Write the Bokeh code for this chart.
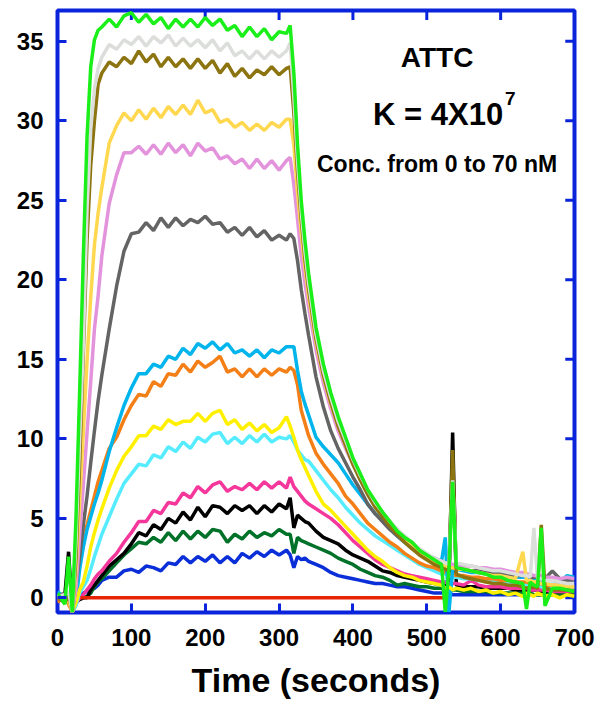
from bokeh.plotting import figure
from bokeh.models import Label, Range1d, FixedTicker
from bokeh.embed import file_html
from bokeh.resources import INLINE

# ---------------- data ----------------
TIME = [0, 10,
        15, 20, 25, 30, 35, 40, 45, 50, 55,
        60, 70, 80, 90, 100, 110, 120, 130, 140, 150, 160, 170, 180, 190, 200,
        210, 220, 230, 240, 250, 260, 270, 280, 290, 300, 310,
        315, 320, 325, 330, 335,
        340, 350, 360, 370, 380, 390, 400, 410, 420, 430, 440, 450, 460, 470,
        480, 490, 500, 510, 520,
        525, 530, 535,
        540, 550, 560, 570, 580, 590, 600, 610, 620, 630,
        635, 640, 645, 650, 655,
        660, 670, 680, 690, 700]

RESP_GREEN = [0.3, -0.4,
              2.6, -0.9, 5.0, 13.0, 21.5, 29.0, 33.4, 35.1, 35.7,
              35.9, 36.4, 35.9, 36.6, 36.8, 36.2, 36.7, 36.1, 36.5, 35.8, 36.4, 35.9, 36.4, 35.9, 36.5,
              36.0, 36.4, 35.7, 36.0, 35.3, 35.9, 35.3, 35.8, 35.1, 35.6, 35.5,
              36.0, 33.0, 28.5, 25.0, 22.5,
              20.4, 17.0, 14.7, 12.9, 11.4, 10.1, 8.8, 7.8, 6.8, 6.1, 5.4, 4.8, 4.2, 3.8,
              3.5, 3.0, 2.7, 2.4, 2.1,
              -0.9, 1.8, 7.3,
              1.9, 1.8, 1.7, 1.6, 1.5, 1.3, 1.3, 1.1, 1.0, 0.9,
              -0.7, 1.0, 0.8, 0.7, 4.4,
              -0.5, 0.6, 0.6, 0.5, 0.4]

RESP_LIGHTGRAY = [0.1, 0.2,
                  0.4, -0.9, 3.5, 10.0, 16.0, 24.5, 29.5, 32.0, 33.3,
                  34.0, 34.8, 34.5, 35.1, 34.8, 35.3, 34.7, 35.3, 34.9, 35.4, 34.7, 35.2, 34.7, 35.1, 34.6,
                  35.1, 34.4, 34.9, 34.1, 34.4, 33.9, 34.4, 33.9, 34.4, 34.0, 34.4,
                  34.9, 31.5, 27.5, 24.3, 21.8,
                  19.8, 16.6, 14.3, 12.6, 11.1, 9.9, 8.7, 7.7, 6.8, 6.0, 5.4, 4.8, 4.3, 3.9,
                  3.5, 3.1, 2.8, 2.5, 2.3,
                  2.2, 2.1, 7.4,
                  2.2, 2.1, 2.0, 1.9, 1.8, 1.7, 1.7, 1.6, 1.5, 1.4,
                  1.4, 1.3, 4.4, 1.2, 1.2,
                  1.1, 1.1, 1.0, 0.9, 0.9]

RESP_OLIVE = [0.0, -0.3,
              0.2, -0.9, 2.5, 8.5, 15.5, 22.5, 27.2, 30.0, 32.3,
              33.0, 33.7, 33.4, 34.0, 33.6, 34.4, 33.7, 34.2, 33.4, 34.0, 33.4, 33.9, 33.3, 33.9, 33.3,
              33.8, 33.0, 33.6, 32.8, 33.3, 32.7, 33.2, 32.9, 33.4, 32.9, 33.3,
              33.4, 30.5, 26.8, 23.8, 21.3,
              19.4, 16.3, 14.0, 12.3, 10.8, 9.6, 8.4, 7.4, 6.5, 5.7, 5.1, 4.5, 4.0, 3.5,
              3.1, 2.7, 2.4, 2.1, 1.9,
              1.8, 1.7, 9.3,
              1.5, 1.3, 1.2, 1.1, 1.0, 0.9, 0.9, 0.8, 0.8, 0.7,
              0.6, 0.7, 0.7, 0.6, 4.6,
              0.6, 0.5, 0.5, 0.5, 0.4]

RESP_GOLD = [0.2, 0.0,
             -0.2, -0.9, 1.8, 6.1, 10.5, 14.9, 18.9, 22.2, 24.2,
             25.8, 28.6, 29.7, 30.5, 30.0, 30.7, 30.1, 30.8, 30.2, 30.9, 30.4, 31.0, 30.4, 31.3, 30.5,
             30.7, 29.9, 30.1, 29.6, 29.9, 29.4, 29.8, 29.4, 29.9, 29.6, 30.1,
             30.1, 28.5, 25.5, 23.0, 20.8,
             19.0, 16.1, 13.9, 12.2, 10.8, 9.6, 8.5, 7.6, 6.7, 5.9, 5.3, 4.7, 4.2, 3.7,
             3.3, 2.9, 2.6, 2.3, 2.1,
             2.0, 1.9, 1.9,
             1.8, 1.8, 1.7, 1.6, 1.5, 1.4, 1.4, 1.3, 1.2, 2.9,
             1.1, 1.1, 1.0, 1.0, 0.9,
             0.9, 0.8, 0.8, 0.7, 0.7]

RESP_VIOLET = [-0.1, 0.2,
               0.1, -0.9, 0.6, 3.9, 7.1, 10.4, 13.6, 16.9, 19.0,
               21.5, 24.8, 26.6, 28.0, 28.0, 28.4, 27.9, 28.5, 27.9, 28.6, 28.0, 28.5, 27.8, 28.6, 28.1,
               28.3, 27.6, 27.8, 27.3, 27.6, 27.0, 27.6, 27.0, 27.5, 26.9, 27.5,
               27.7, 26.0, 23.8, 21.5, 19.8,
               18.3, 15.6, 13.5, 11.9, 10.5, 9.4, 8.4, 7.5, 6.7, 6.0, 5.4, 4.8, 4.3, 3.8,
               3.4, 3.0, 2.7, 2.5, 2.3,
               2.2, 2.2, 2.1,
               2.1, 2.0, 2.0, 1.9, 1.9, 1.8, 1.8, 1.7, 1.6, 1.6,
               1.5, 1.5, 1.4, 1.4, 1.4,
               1.3, 1.3, 1.2, 1.3, 1.2]

RESP_DARKGRAY = [0.1, 0.3,
                 0.2, -0.9, 0.8, 2.6, 4.6, 6.4, 8.5, 10.5, 12.4,
                 14.0, 16.9, 19.6, 21.8, 22.9, 23.0, 23.6, 23.1, 23.9, 23.3, 23.9, 23.4, 23.8, 23.6, 24.0,
                 23.5, 23.6, 23.0, 23.3, 22.8, 23.3, 22.7, 23.1, 22.5, 22.8, 22.5,
                 22.9, 22.6, 21.2, 19.4, 17.9,
                 16.5, 13.9, 12.0, 10.5, 9.4, 8.5, 7.6, 6.8, 5.9, 5.3, 4.8, 4.3, 3.9, 3.5,
                 3.1, 2.8, 2.5, 2.3, 2.1,
                 2.0, 1.9, 1.9,
                 1.8, 1.8, 1.7, 1.7, 1.6, 1.6, 1.5, 1.5, 1.4, 1.4,
                 1.4, 1.3, 1.3, 1.3, 1.2,
                 1.2, 1.7, 1.2, 1.1, 1.1]

RESP_SKYBLUE = [0.4, 0.0,
                0.3, -0.9, -0.2, 1.8, 3.2, 4.3, 5.1, 5.9, 6.6,
                7.4, 9.2, 10.7, 12.1, 13.2, 14.1, 14.1, 14.7, 14.5, 15.2, 15.0, 15.7, 15.3, 16.0, 15.7,
                16.1, 15.6, 16.0, 15.4, 15.6, 15.2, 15.6, 15.1, 15.6, 15.4, 15.8,
                15.8, 15.8, 14.3, 13.0, 12.2,
                11.5, 10.1, 9.5, 9.0, 8.5, 7.8, 7.1, 6.5, 5.9, 5.3, 4.9, 4.4, 3.9, 3.5,
                3.2, 2.9, 2.7, 2.5, 2.3,
                3.8, -0.9, 1.8,
                1.8, 1.7, 1.6, 1.6, 1.5, 1.5, 1.4, 1.4, 1.3, 1.3,
                1.3, 1.2, 1.2, 1.2, 1.1,
                1.1, 1.1, 1.0, 1.4, 1.3]

RESP_ORANGE = [-0.3, 0.2,
               -0.4, -0.9, 0.5, 2.3, 3.8, 4.6, 5.5, 6.4, 7.3,
               8.0, 9.4, 10.1, 11.2, 12.1, 12.8, 12.7, 13.6, 13.3, 14.1, 14.0, 14.7, 14.2, 14.9, 14.5,
               14.8, 15.2, 14.2, 14.4, 13.9, 14.4, 13.9, 14.4, 14.0, 14.4, 14.2,
               14.5, 14.3, 13.4, 11.8, 11.0,
               10.2, 9.1, 8.4, 7.8, 7.2, 6.4, 5.9, 5.3, 4.7, 4.3, 3.9, 3.5, 3.2, 2.8,
               2.5, 2.2, 2.0, 1.9, 1.7,
               1.6, 1.5, 1.5,
               1.4, 1.4, 1.3, 1.3, 1.2, 1.2, 1.1, 1.1, 1.0, 1.0,
               1.0, 0.9, 0.9, 0.9, 0.9,
               0.8, 0.8, 0.8, 0.7, 0.7]

RESP_YELLOW = [0.1, -0.2,
               0.0, -0.9, -0.3, 0.5, 1.0, 2.0, 3.2, 4.1, 4.9,
               5.6, 6.9, 8.0, 8.9, 9.5, 10.2, 10.2, 10.8, 10.6, 11.2, 10.9, 11.1, 11.1, 11.6, 11.1,
               11.6, 11.8, 10.9, 11.2, 10.6, 11.0, 10.5, 10.9, 10.4, 10.7, 11.4,
               10.8, 10.1, 9.3, 8.7, 8.2,
               7.7, 6.7, 5.9, 5.5, 5.0, 4.5, 4.0, 3.5, 3.0, 2.6, 2.3, 1.9, 1.6, 1.4,
               1.3, 1.1, 1.0, 0.9, 0.8,
               0.6, 0.7, 0.5,
               0.6, 0.5, 0.6, 0.4, 0.5, 0.3, 0.4, 0.2, 0.3, 0.1,
               0.3, 0.2, 0.1, 0.3, 0.2,
               0.1, 0.2, 0.0, 0.2, 0.1]

RESP_CYAN = [0.0, 0.1,
             0.3, -0.9, -0.5, 0.3, 0.7, 1.1, 1.8, 2.6, 3.3,
             4.0, 5.1, 6.2, 7.2, 7.8, 8.4, 8.3, 9.0, 8.8, 9.5, 9.2, 9.8, 9.4, 10.1, 9.8,
             10.3, 10.4, 9.7, 10.1, 9.7, 10.2, 9.8, 10.3, 9.8, 10.1, 10.0,
             10.2, 9.8, 9.3, 9.0, 8.7,
             8.6, 8.0, 7.4, 6.8, 6.3, 5.7, 5.2, 4.7, 4.3, 3.9, 3.6, 3.3, 3.0, 2.7,
             2.4, 2.1, 1.9, 1.7, 1.5,
             1.5, 1.4, 1.3,
             1.3, 1.2, 1.2, 1.1, 1.1, 1.0, 1.0, 0.9, 0.9, 0.9,
             0.8, 1.2, 0.8, 0.8, 0.7,
             0.7, 0.7, 0.6, 0.6, 0.6]

RESP_MAGENTA = [-0.2, 0.1,
                0.0, -0.9, -0.4, 0.0, 0.2, 0.5, 0.8, 1.2, 1.5,
                1.7, 2.3, 2.8, 3.5, 4.1, 4.8, 4.8, 5.5, 5.3, 6.0, 5.9, 6.6, 6.3, 7.0, 6.6,
                7.1, 7.3, 6.7, 7.0, 6.8, 7.2, 6.8, 7.3, 6.9, 7.3, 6.9,
                7.6, 7.0, 6.7, 6.4, 6.1,
                5.9, 5.6, 5.3, 5.0, 4.6, 4.1, 3.6, 3.2, 2.8, 2.4, 2.1, 1.9, 1.7, 1.5,
                1.4, 1.3, 1.2, 1.1, 1.0,
                1.0, 0.9, 0.9,
                0.9, 0.8, 1.1, 0.8, 0.7, 0.7, 0.7, 0.6, 0.6, 0.6,
                0.6, 0.5, 0.5, 0.5, 0.5,
                0.5, 0.4, 0.4, 0.4, 0.4]

RESP_BLACK = [0.0, 0.2,
              2.9, -0.9, -0.3, -0.1, 0.0, 0.0, 0.5, 0.8, 1.1,
              1.4, 2.0, 2.4, 2.8, 3.4, 4.1, 3.9, 4.6, 4.3, 5.0, 4.7, 5.4, 4.9, 5.7, 5.1,
              5.8, 5.7, 5.3, 5.8, 5.5, 5.8, 5.3, 5.8, 5.4, 5.9, 5.6,
              6.3, 4.4, 5.2, 5.0, 4.8,
              4.7, 4.2, 3.8, 3.6, 3.4, 3.0, 2.7, 2.5, 2.3, 2.0, 1.7, 1.6, 1.4, 1.3,
              1.2, 1.1, 1.0, 0.9, 0.9,
              0.8, 0.8, 10.4,
              0.8, 0.7, 0.7, 0.7, 0.6, 0.6, 0.6, 0.6, 0.5, 0.5,
              0.5, 0.5, 0.5, 0.5, 0.4,
              0.4, 0.4, 0.4, 1.0, 0.4]

RESP_DARKGREEN = [0.2, -0.1,
                  0.1, -0.9, -0.2, -0.1, 0.0, 0.1, 0.3, 0.7, 1.0,
                  1.2, 1.7, 2.2, 2.7, 3.1, 3.5, 3.4, 3.8, 3.5, 4.1, 3.6, 4.2, 3.7, 4.2, 3.8,
                  4.3, 4.2, 3.5, 4.0, 3.7, 4.2, 3.8, 4.1, 3.9, 4.3, 4.0,
                  4.0, 2.8, 3.8, 3.6, 3.5,
                  3.4, 3.2, 3.0, 2.8, 2.5, 2.3, 2.1, 1.8, 1.6, 1.4, 1.3, 1.1, 0.8, 0.9,
                  0.8, 0.7, 0.7, 0.6, 0.6,
                  0.5, 0.5, 0.5,
                  0.5, 0.4, 0.4, 0.4, 0.4, 0.3, 0.3, 0.3, 0.3, 0.3,
                  0.3, 0.3, 0.2, 0.2, 0.2,
                  0.2, 0.2, 0.2, 0.2, 0.2]

RESP_BLUE = [0.3, 0.0,
             -0.2, -0.9, -0.1, 0.2, 0.3, 0.4, 0.5, 0.6, 0.8,
             1.1, 1.3, 1.3, 1.7, 1.8, 1.6, 2.0, 1.9, 1.7, 2.2, 2.1, 2.6, 2.2, 2.6, 2.3,
             2.7, 2.2, 2.6, 2.2, 2.8, 2.5, 2.9, 2.6, 3.0, 2.7, 3.0,
             2.7, 1.9, 2.6, 2.4, 2.5,
             2.3, 2.1, 1.9, 1.6, 1.4, 1.3, 1.2, 1.1, 1.0, 0.9, 0.9, 0.8, 0.7, 0.7,
             0.6, 0.5, 0.4, 0.3, 0.3,
             0.3, 0.3, 0.2,
             0.2, 0.2, 0.2, 0.2, 0.2, 0.2, 0.2, 0.2, 0.2, 0.2,
             0.2, 0.2, 0.2, 0.2, 0.2,
             0.2, 0.2, 0.2, 0.2, 0.2]

ZERO_TIME = [31, 100, 200, 300, 400, 500, 525]
ZERO_RESP = [0.0, 0.0, 0.0, 0.0, 0.0, 0.0, 0.0]

X_TICKS = [0, 100, 200, 300, 400, 500, 600, 700]
Y_TICKS = [0, 5, 10, 15, 20, 25, 30, 35]

TITLE_TEXT = "ATTC"
K_TEXT = "K = 4X10"
K_EXP = "7"
CONC_TEXT = "Conc. from 0 to 70 nM"
X_LABEL = "Time (seconds)"

# ---------------- styling ----------------
FRAME = "#0a24dc"
FONT = "Liberation Sans"
X_MIN, X_MAX = 0, 700
Y_MIN, Y_MAX = -0.92, 36.94
TICK_LEN_X = 12.5   # inward tick length on the right edge, in data units (~9 px)
TICK_LEN_Y = 0.6    # inward tick length on the top edge, in data units (~9 px)

p = figure(width=598, height=702, x_range=Range1d(X_MIN, X_MAX), y_range=Range1d(Y_MIN, Y_MAX),
           output_backend="svg", toolbar_location=None,
           min_border_left=57, min_border_right=24, min_border_top=10, min_border_bottom=90)
p.background_fill_color = "white"
p.border_fill_color = "white"
p.outline_line_color = FRAME
p.outline_line_width = 4
p.xgrid.visible = False
p.ygrid.visible = False

for ax, ticks in ((p.xaxis[0], X_TICKS), (p.yaxis[0], Y_TICKS)):
    ax.ticker = FixedTicker(ticks=ticks)
    ax.axis_line_color = None
    ax.major_tick_in = 9
    ax.major_tick_out = 0
    ax.major_tick_line_color = FRAME
    ax.major_tick_line_width = 3
    ax.minor_tick_line_color = None
    ax.major_label_text_font = FONT
    ax.major_label_text_font_style = "bold"
    ax.major_label_text_font_size = "24px"
    ax.major_label_text_color = "black"
    ax.major_label_standoff = 14
p.xaxis.major_label_standoff = 16

p.xaxis.axis_label = X_LABEL
p.xaxis.axis_label_text_font = FONT
p.xaxis.axis_label_text_font_style = "bold"
p.xaxis.axis_label_text_font_size = "34px"
p.xaxis.axis_label_text_color = "black"
p.xaxis.axis_label_standoff = 12

# inward ticks on the top and right edges of the frame
p.segment(x0=X_TICKS, y0=[Y_MAX] * len(X_TICKS), x1=X_TICKS, y1=[Y_MAX - TICK_LEN_Y] * len(X_TICKS),
          line_color=FRAME, line_width=3)
p.segment(x0=[X_MAX] * len(Y_TICKS), y0=Y_TICKS, x1=[X_MAX - TICK_LEN_X] * len(Y_TICKS), y1=Y_TICKS,
          line_color=FRAME, line_width=3)

SERIES = [
    (RESP_BLUE, "#0a2fd8"),
    (RESP_DARKGREEN, "#007128"),
    (RESP_BLACK, "#000000"),
    (RESP_MAGENTA, "#f5369a"),
    (RESP_CYAN, "#55ecff"),
    (RESP_ORANGE, "#f57f17"),
    (RESP_SKYBLUE, "#00b4ec"),
    (RESP_YELLOW, "#fff000"),
    (RESP_DARKGRAY, "#646464"),
    (RESP_VIOLET, "#e393dc"),
    (RESP_GOLD, "#ffd850"),
    (RESP_OLIVE, "#8c7410"),
    (RESP_LIGHTGRAY, "#dcdedb"),
]
for vals, col in SERIES:
    p.line(TIME, vals, line_color=col, line_width=3.5)
p.line(ZERO_TIME, ZERO_RESP, line_color="#e82400", line_width=3.5)
p.line(TIME, RESP_GREEN, line_color="#1aef1a", line_width=3.5)

LABEL_STYLE = dict(text_font=FONT, text_font_style="bold", text_color="black")
p.add_layout(Label(x=514, y=34.0, text=TITLE_TEXT, text_align="center", text_baseline="middle",
                   text_font_size="28px", **LABEL_STYLE))
p.add_layout(Label(x=603.5, y=30.4, text=K_TEXT, text_align="right", text_baseline="middle",
                   text_font_size="31px", **LABEL_STYLE))
p.add_layout(Label(x=606, y=31.4, text=K_EXP, text_align="left", text_baseline="middle",
                   text_font_size="19px", **LABEL_STYLE))
p.add_layout(Label(x=514, y=27.3, text=CONC_TEXT, text_align="center", text_baseline="middle",
                   text_font_size="23px", **LABEL_STYLE))

open("out.html", "w").write(file_html(p, INLINE))
